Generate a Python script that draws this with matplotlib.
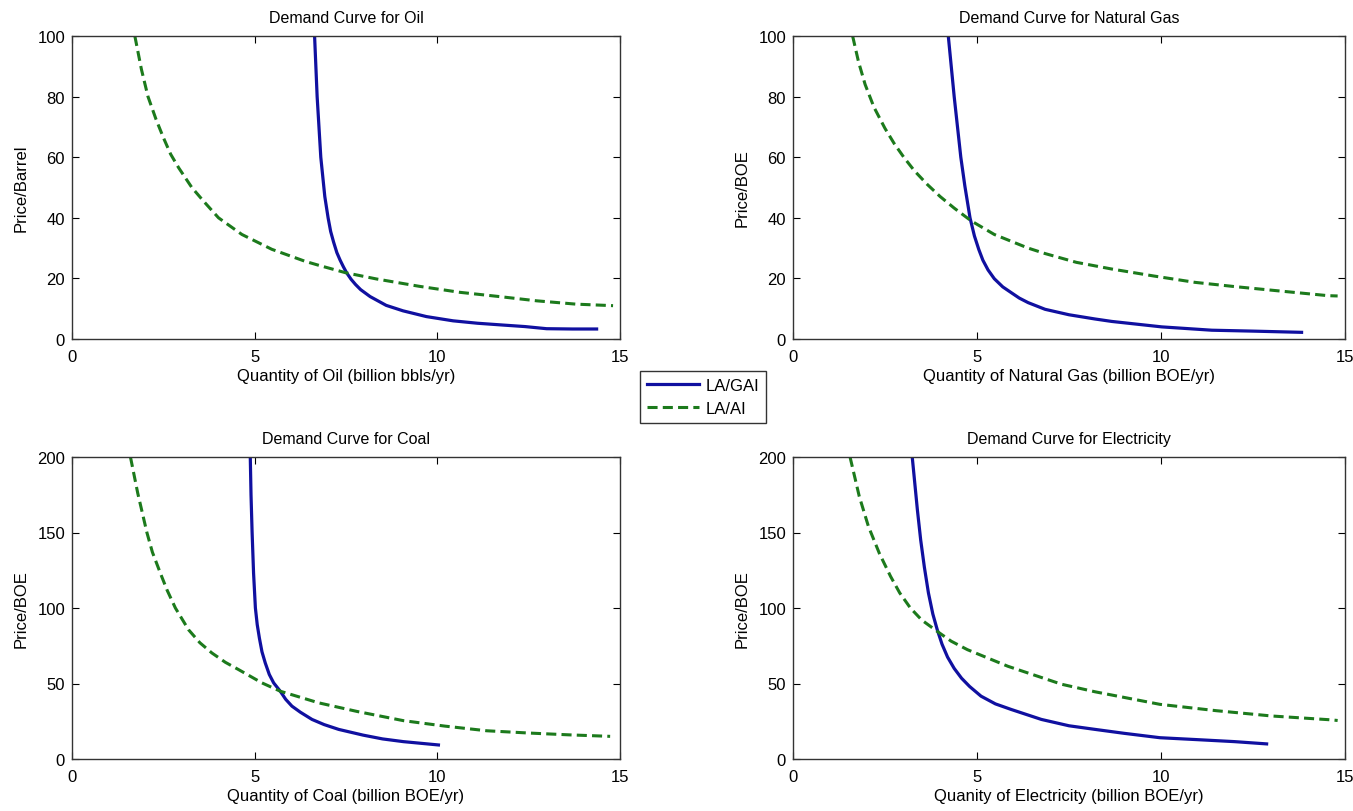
import numpy as np
import matplotlib
matplotlib.use("Agg")
import matplotlib.pyplot as plt

plt.rcParams['font.family'] = ['Liberation Sans', 'DejaVu Sans']

# ---- data ----
oil_gai_q = [6.64, 6.71, 6.81, 6.92, 7.01, 7.08, 7.16, 7.25, 7.34, 7.43, 7.52, 7.64, 7.76,
             7.9, 8.16, 8.6, 9.06, 9.7, 10.43, 11.1, 11.8, 12.4, 12.99, 13.7, 14.36]
oil_gai_p = [100, 80, 60, 47, 40, 35.5, 32, 28.5, 26, 23.8, 21.8, 19.7, 18,
             16.3, 14.0, 11.1, 9.3, 7.4, 6.0, 5.2, 4.6, 4.1, 3.4, 3.3, 3.3]
oil_ai_q = [1.72, 1.9, 2.08, 2.3, 2.5, 2.7, 2.92, 3.28, 3.6, 4.01, 4.65, 5.47, 6.39, 6.79,
            7.48, 8.34, 9.5, 10.62, 11.7, 12.72, 13.8, 14.81]
oil_ai_p = [100, 89, 80, 72.5, 66.5, 61, 56.5, 50, 45.5, 40, 34.5, 29.6, 25.6, 24.2,
            21.9, 19.8, 17.4, 15.4, 14.0, 12.6, 11.5, 11.0]

gas_gai_q = [4.22, 4.3, 4.38, 4.47, 4.56, 4.67, 4.81, 4.93, 5.05, 5.16, 5.3, 5.47, 5.7,
             5.93, 6.15, 6.39, 6.85, 7.5, 8.21, 8.66, 10.02, 11.38, 12.5, 13.82]
gas_gai_p = [100, 90, 80, 70, 60, 50.5, 40, 34, 29.5, 26, 22.8, 19.9, 17.2,
             15.3, 13.5, 12, 9.8, 8.0, 6.6, 5.8, 4.0, 2.9, 2.6, 2.2]
gas_ai_q = [1.62, 1.78, 1.96, 2.2, 2.5, 2.75, 3.01, 3.3, 3.65, 4.0, 4.38, 4.84, 5.47,
            6.39, 6.85, 7.7, 8.66, 9.8, 10.92, 12.0, 13.18, 14.54, 14.8]
gas_ai_p = [100, 91.5, 84, 76.5, 69.5, 64.5, 60, 55.5, 51, 47, 43.2, 39, 34.5,
            30, 28.2, 25.3, 23.1, 20.8, 18.7, 17.3, 15.9, 14.3, 14.2]

coal_gai_q = [4.88, 4.9, 4.93, 4.97, 5.02, 5.07, 5.13, 5.2, 5.29, 5.4, 5.52, 5.70, 5.85,
              6.02, 6.25, 6.57, 6.9, 7.30, 7.97, 8.5, 9.07, 10.03]
coal_gai_p = [200, 175, 150, 123, 100, 89, 80, 71, 63.6, 56, 50.4, 44.9, 39.5,
              35, 31, 26.2, 22.8, 19.6, 15.8, 13.3, 11.5, 9.3]
coal_ai_q = [1.60, 1.8, 2.05, 2.2, 2.42, 2.6, 2.83, 3.19, 3.5, 3.83, 4.2, 4.56, 5.20, 5.70,
             6.75, 7.8, 9.07, 10.2, 11.35, 12.5, 13.6, 14.73]
coal_ai_p = [200, 176, 150, 137, 123, 112, 100, 85.6, 77, 70.2, 64, 59.2, 50.4, 44.9,
             37.2, 31.5, 25.4, 21.8, 18.7, 17.2, 16, 15.0]

elec_gai_q = [3.24, 3.3, 3.38, 3.47, 3.57, 3.68, 3.8, 3.92, 4.05, 4.2, 4.38, 4.58,
              4.8, 5.11, 5.5, 5.93, 6.75, 7.5, 8.21, 9.0, 9.97, 11.0, 12.0, 12.87]
elec_gai_p = [200, 185, 165, 145, 127, 110, 96, 85.6, 76, 67.5, 60, 53.5,
              48, 41.6, 36.5, 32.8, 26.2, 22, 19.6, 17, 14.1, 12.8, 11.5, 10]
elec_ai_q = [1.55, 1.8, 2.05, 2.35, 2.65, 2.9, 3.19, 3.5, 3.92, 4.3, 4.74, 5.84, 7.30,
             8.21, 9.97, 11.5, 13.0, 14.64, 14.8]
elec_ai_p = [200, 174, 154, 136, 121, 110, 100, 92, 84.5, 78, 72.4, 61.4, 49.5,
             44.5, 36.2, 32, 28.5, 25.9, 25.5]

titles = ["Demand Curve for Oil", "Demand Curve for Natural Gas",
          "Demand Curve for Coal", "Demand Curve for Electricity"]
xlabels = ["Quantity of Oil (billion bbls/yr)", "Quantity of Natural Gas (billion BOE/yr)",
           "Quantity of Coal (billion BOE/yr)", "Quanity of Electricity (billion BOE/yr)"]
ylabels = ["Price/Barrel", "Price/BOE", "Price/BOE", "Price/BOE"]
ymaxes = [100, 100, 200, 200]
series_names = ["LA/GAI", "LA/AI"]

BLUE = "#1010a0"
GREEN = "#1c7a1c"

fig = plt.figure(figsize=(13.53, 8.12), dpi=100)
W, H = 1353, 812
boxes = [(72, 37, 620, 340), (793, 37, 1345, 340),
         (72, 458, 620, 760), (793, 458, 1345, 760)]

data = [(oil_gai_q, oil_gai_p, oil_ai_q, oil_ai_p),
        (gas_gai_q, gas_gai_p, gas_ai_q, gas_ai_p),
        (coal_gai_q, coal_gai_p, coal_ai_q, coal_ai_p),
        (elec_gai_q, elec_gai_p, elec_ai_q, elec_ai_p)]

handles = None
for i, (l, t, r, b) in enumerate(boxes):
    ax = fig.add_axes([l / W, 1 - b / H, (r - l) / W, (b - t) / H])
    gq, gp, aq, ap = data[i]
    h1, = ax.plot(gq, gp, color=BLUE, lw=2.3, label=series_names[0],
                  solid_joinstyle='round')
    h2, = ax.plot(aq, ap, color=GREEN, lw=2.2, ls=(0, (3.3, 1.7)), label=series_names[1])
    handles = [h1, h2]
    ax.set_xlim(0, 15)
    ax.set_ylim(0, ymaxes[i])
    ax.set_xticks([0, 5, 10, 15])
    step = 20 if ymaxes[i] == 100 else 50
    ax.set_yticks(list(range(0, ymaxes[i] + 1, step)))
    ax.tick_params(axis='both', direction='in', top=True, right=True, labelsize=12,
                   length=5, width=0.8)
    ax.tick_params(axis='x', pad=7)
    ax.tick_params(axis='y', pad=5)
    ax.set_title(titles[i], fontsize=11.5, pad=10)
    ax.set_xlabel(xlabels[i], fontsize=12, labelpad=3)
    ax.set_ylabel(ylabels[i], fontsize=12, labelpad=6)
    for s in ax.spines.values():
        s.set_linewidth(1.0)
        s.set_color('#333333')

fig.legend(handles, series_names, loc='center', bbox_to_anchor=(703 / W, 1 - 398 / H),
           fontsize=12, frameon=True, fancybox=False, edgecolor='black',
           handlelength=3.1, borderpad=0.4, labelspacing=0.5, handletextpad=0.4)

fig.savefig("out.png", dpi=100)
